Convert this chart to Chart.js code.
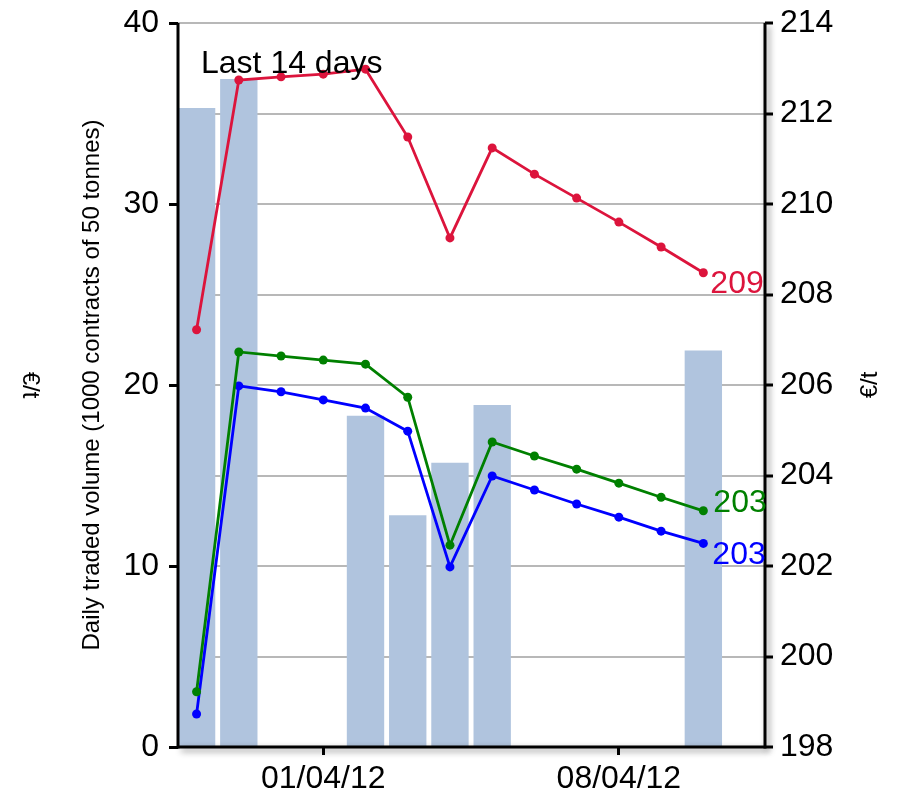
<!DOCTYPE html>
<html><head><meta charset="utf-8">
<script src="https://cdn.jsdelivr.net/npm/chart.js@4.4.1/dist/chart.umd.min.js"></script>
<style>html,body{margin:0;padding:0;background:#fff}#wrap{width:899px;height:796px}</style>
</head><body><div id="wrap"><canvas id="c" width="899" height="796"></canvas></div>
<script>
// ---- data ----
const dates = ['29/03/12','30/03/12','31/03/12','01/04/12','02/04/12','03/04/12','04/04/12','05/04/12','06/04/12','07/04/12','08/04/12','09/04/12','10/04/12'];
const tickDates = ['01/04/12','08/04/12'];
const volume = [35.3, 36.9, null, null, 18.3, 12.8, 15.7, 18.9, null, null, null, null, 21.9];
const priceRed = [207.22, 212.74, 212.81, 212.87, 212.98, 211.48, 209.25, 211.24, 210.66, 210.13, 209.60, 209.05, 208.48];
const priceGreen = [199.22, 206.73, 206.64, 206.55, 206.46, 205.73, 202.46, 204.74, 204.43, 204.14, 203.83, 203.52, 203.22];
const priceBlue = [198.73, 205.98, 205.85, 205.67, 205.49, 204.98, 201.98, 203.99, 203.68, 203.37, 203.08, 202.77, 202.50];
const endLabels = ['209', '203', '203'];
const volumeRange = [0, 40, 10];
const priceRange = [198, 214, 2];
const titleText = 'Last 14 days';
const volumeTitle = 'Daily traded volume (1000 contracts of 50 tonnes)';
const priceTitle = '€/t';

// ---- styles ----
const FONT = "'Liberation Sans', Arial, Helvetica, sans-serif";
const COLORS = ['#dc143c', '#008000', '#0000ff'];
const LABEL_OFFSETS = [[7, 11], [10, -8], [9, 11.5]];

const pts = arr => arr.map((v, i) => ({x: i, y: v}));
const lineDs = (arr, color) => ({
  type: 'line', data: pts(arr), yAxisID: 'yPrice', borderColor: color, backgroundColor: color,
  borderWidth: 2.8, pointRadius: 4.5, pointBorderWidth: 0, pointHoverRadius: 4.5, tension: 0, order: 1
});
const zeroPad = s => { s.paddingTop = 0; s.paddingBottom = 0; s.paddingLeft = 0; s.paddingRight = 0; };

const decor = {
  id: 'decor',
  afterDatasetsDraw(chart) {
    const {ctx, chartArea: a, width} = chart;
    ctx.save();
    ctx.strokeStyle = '#000';
    ctx.lineWidth = 3;
    ctx.lineCap = 'butt';
    ctx.beginPath(); ctx.moveTo(a.left, a.top); ctx.lineTo(a.left, a.bottom + 1.5); ctx.stroke();
    ctx.shadowColor = 'rgba(0,0,0,0.45)'; ctx.shadowBlur = 6; ctx.shadowOffsetX = 3; ctx.shadowOffsetY = 3;
    ctx.beginPath(); ctx.moveTo(a.left, a.bottom); ctx.lineTo(a.right, a.bottom); ctx.stroke();
    ctx.beginPath(); ctx.moveTo(a.right, a.top); ctx.lineTo(a.right, a.bottom + 1.5); ctx.stroke();
    ctx.restore();

    ctx.save();
    ctx.fillStyle = '#000';
    ctx.font = '32px ' + FONT;
    ctx.textAlign = 'left'; ctx.textBaseline = 'alphabetic';
    ctx.fillText(titleText, a.left + 23, a.top + 50);
    ctx.textBaseline = 'middle';
    [1, 2, 3].forEach((di, k) => {
      const meta = chart.getDatasetMeta(di);
      const el = meta.data[meta.data.length - 1];
      ctx.fillStyle = COLORS[k];
      ctx.fillText(endLabels[k], el.x + LABEL_OFFSETS[k][0], el.y + LABEL_OFFSETS[k][1]);
    });
    ctx.restore();

    // unit labels at both outer edges
    const cy = (a.top + a.bottom) / 2;
    [[30, Math.PI / 2], [width - 29, -Math.PI / 2]].forEach(([x, rot]) => {
      ctx.save();
      ctx.fillStyle = '#000';
      ctx.font = '24px ' + FONT;
      ctx.textAlign = 'center'; ctx.textBaseline = 'middle';
      ctx.translate(x, cy);
      ctx.rotate(rot);
      ctx.fillText(priceTitle, 0, 0);
      ctx.restore();
    });
  }
};

new Chart(document.getElementById('c'), {
  data: {
    datasets: [
      {type: 'bar', data: pts(volume), yAxisID: 'yVol', backgroundColor: '#b0c4de',
       barPercentage: 0.885, categoryPercentage: 1, order: 2},
      lineDs(priceRed, COLORS[0]),
      lineDs(priceGreen, COLORS[1]),
      lineDs(priceBlue, COLORS[2])
    ]
  },
  options: {
    responsive: false, animation: false,
    layout: {padding: {top: 23, left: 0, right: 0, bottom: 0}},
    plugins: {legend: {display: false}, tooltip: {enabled: false}},
    scales: {
      x: {
        type: 'linear', min: -0.44, max: 13.46, offset: false,
        border: {display: false},
        grid: {offset: false, drawOnChartArea: false, tickLength: 8, tickColor: '#000', tickWidth: 3},
        ticks: {font: {family: FONT, size: 32}, color: '#000', padding: 5, maxRotation: 0, autoSkip: false,
                callback: v => dates[v]},
        afterBuildTicks: s => { s.ticks = tickDates.map(d => ({value: dates.indexOf(d)})); },
        afterFit: s => { s.height = 49; zeroPad(s); }
      },
      yVol: {
        position: 'left', min: volumeRange[0], max: volumeRange[1],
        border: {display: false},
        grid: {drawOnChartArea: false, tickLength: 9, tickColor: '#000', tickWidth: 3},
        ticks: {stepSize: volumeRange[2], font: {family: FONT, size: 32}, color: '#000', padding: 10},
        title: {display: true, text: volumeTitle, color: '#000', font: {family: FONT, size: 24}, padding: {top: 78, bottom: 0}},
        afterFit: s => { s.width = 178; zeroPad(s); }
      },
      yPrice: {
        position: 'right', min: priceRange[0], max: priceRange[1],
        border: {display: false},
        grid: {color: '#b8b8b8', lineWidth: 2, tickLength: 8, tickColor: '#000', tickWidth: 3},
        ticks: {stepSize: priceRange[2], font: {family: FONT, size: 32}, color: '#000', padding: 7},
        afterFit: s => { s.width = 134; zeroPad(s); }
      }
    }
  },
  plugins: [decor]
});
</script>
</body></html>
